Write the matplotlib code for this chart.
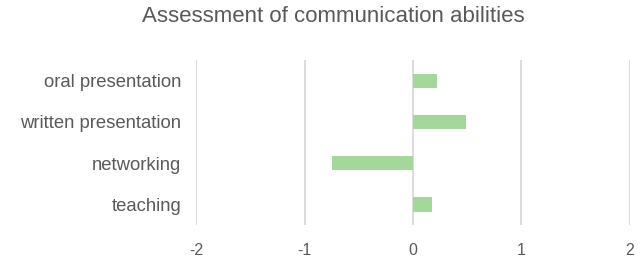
import matplotlib.pyplot as plt

# data
abilities = ['oral presentation', 'written presentation', 'networking', 'teaching']
scores = [0.22, 0.49, -0.75, 0.17]
xticks = [-2, -1, 0, 1, 2]

plt.rcParams['font.family'] = ['Liberation Sans', 'DejaVu Sans']
textColor = '#595959'

fig = plt.figure(figsize=(6.4, 2.58), dpi=100)
ax = fig.add_axes([0.307, 0.128, 0.677, 0.639])

ypos = list(range(len(abilities)))[::-1]
ax.barh(ypos, scores, height=0.35, color='#a3d89a', zorder=3)

ax.set_xlim(-2, 2)
ax.set_ylim(-0.5, len(abilities) - 0.5)
ax.set_xticks(xticks)
ax.set_xticklabels([str(t) for t in xticks])
ax.set_yticks(ypos)
ax.set_yticklabels(abilities)

ax.grid(axis='x', color='#d9d9d9', linewidth=1.3, zorder=0)
for s in ax.spines.values():
    s.set_visible(False)
ax.tick_params(axis='y', length=0, labelsize=13.3, colors=textColor, pad=11)
ax.tick_params(axis='x', length=0, labelsize=11.5, colors=textColor, pad=13)

fig.text(333 / 640, 1 - 22 / 258, 'Assessment of communication abilities',
         ha='center', va='baseline', fontsize=16, color=textColor)

fig.savefig('out.png', dpi=100)
